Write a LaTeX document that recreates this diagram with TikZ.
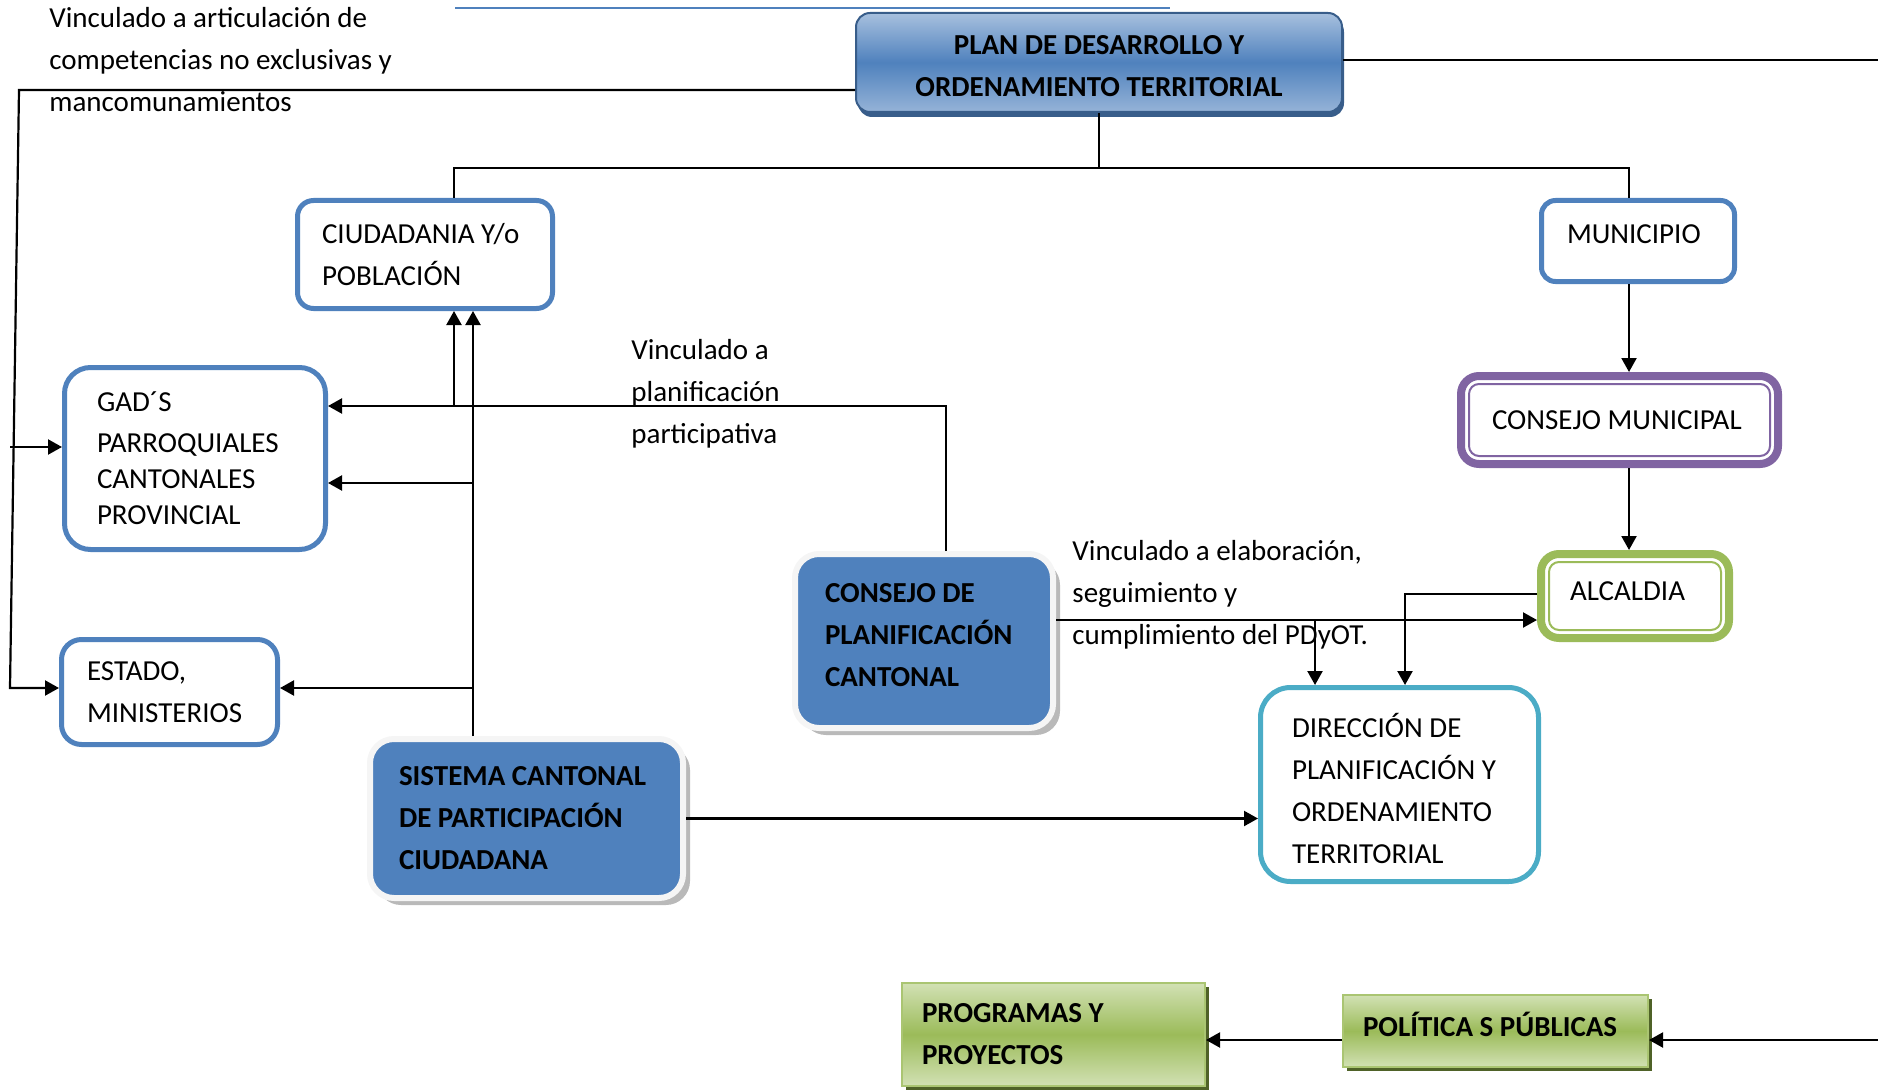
\documentclass[tikz,border=0pt]{standalone}
\usepackage{fontspec}
\setmainfont{Carlito}
\usetikzlibrary{arrows.meta,shadows}

\definecolor{azul}{HTML}{4F81BD}
\definecolor{azulosc}{HTML}{385D8A}
\definecolor{morado}{HTML}{8064A2}
\definecolor{verde}{HTML}{9BBB59}
\definecolor{verdeclaro}{HTML}{D2E1B4}
\definecolor{verdeosc}{HTML}{4F6228}
\definecolor{celeste}{HTML}{4BACC6}

\begin{document}
\begin{tikzpicture}[x=0.5pt,y=-0.5pt,
  every node/.style={inner sep=0pt,font=\fontsize{14.5}{21}\selectfont},
  arr/.style={-{Triangle[length=7pt,width=7.5pt]},line width=1.1pt},
  linea/.style={line width=1.1pt},
  caja/.style={draw=#1,line width=2.5pt,fill=white,align=flush left},
  caja/.default=azul,
  dobre/.style={draw=#1,line width=4pt,fill=white,align=flush left,rounded corners=9pt},
  relleno/.style={draw=gray!8,line width=3pt,fill=azul,align=flush left,rounded corners=12pt,
    font=\fontsize{14.5}{21}\selectfont\bfseries,
    drop shadow={shadow xshift=3.5pt,shadow yshift=-3.5pt,fill=gray!55,opacity=1}},
  verdebox/.style={draw=verde!85!white,line width=1pt,top color=verdeclaro,bottom color=verdeclaro,
    middle color=verde,align=flush left,font=\fontsize{14.5}{21}\selectfont\bfseries,
    drop shadow={shadow xshift=2pt,shadow yshift=-2pt,fill=verdeosc,opacity=1}}]
\useasboundingbox (0,0) rectangle (1878,1091);
\draw[azul,line width=0.6pt] (455,8) -- (1170,8);

\node (plan) at (1099,62.5) [draw=azulosc,line width=1pt,rounded corners=7pt,
  top color=azul!50!white,bottom color=azul!60!white,middle color=azul,align=center,
  minimum width=243pt,minimum height=49.5pt,font=\fontsize{14.5}{21}\selectfont\bfseries,
  text height=34pt,drop shadow={shadow xshift=1pt,shadow yshift=-2.5pt,fill=azulosc,opacity=1}]
  {PLAN DE DESARROLLO Y\\ORDENAMIENTO TERRITORIAL};
\node (ciud) at (425,254.5) [caja,rounded corners=8pt,minimum width=127.5pt,minimum height=54pt,
  inner xsep=12.25pt,text width=103pt] {\mbox{CIUDADANIA Y/o}\\POBLACIÓN};
\node (gad) at (195,458.5) [caja,rounded corners=13pt,minimum width=130.5pt,minimum height=91pt,
  inner xsep=16.25pt,text width=98pt,font=\fontsize{14.5}{18}\selectfont]
  {GAD´S\\[2.5pt]PARROQUIALES\\CANTONALES\\PROVINCIAL};
\node (estado) at (169.5,692) [caja,rounded corners=10pt,minimum width=108pt,minimum height=52.5pt,
  inner xsep=12.75pt,text width=82.5pt] {ESTADO,\\MINISTERIOS};
\node (cpc) at (924,641) [relleno,minimum width=129pt,minimum height=87pt,
  inner xsep=15pt,text width=99pt,text depth=48pt] {\mbox{CONSEJO DE}\\PLANIFICACIÓN\\CANTONAL};
\node (sistema) at (526.5,818.5) [relleno,minimum width=156.5pt,minimum height=79.5pt,
  inner xsep=14.5pt,text width=127.5pt] {\mbox{SISTEMA CANTONAL}\\\mbox{DE PARTICIPACIÓN}\\CIUDADANA};
\node (muni) at (1638,241) [caja,rounded corners=7pt,minimum width=96.5pt,minimum height=40.5pt,
  inner xsep=12.75pt,text width=71pt,text depth=7pt] {MUNICIPIO};
\node (cmun) at (1619.5,420) [dobre=morado,minimum width=158.5pt,minimum height=44pt,
  inner xsep=15.5pt,text width=127.5pt] {\mbox{CONSEJO MUNICIPAL}};
\node (alc) at (1635,596) [dobre=verde,minimum width=94pt,minimum height=42pt,
  inner xsep=14.5pt,text width=65pt,text depth=5pt] {ALCALDIA};
\node (dir) at (1399.5,784.5) [caja=celeste,rounded corners=15pt,minimum width=139pt,minimum height=97pt,
  inner xsep=15.75pt,text width=107.5pt,text height=16pt]
  {\mbox{DIRECCIÓN DE}\\\mbox{PLANIFICACIÓN Y}\\ORDENAMIENTO\\TERRITORIAL};
\node (prog) at (1053.5,1034.5) [verdebox,minimum width=151.5pt,minimum height=51.5pt,
  inner xsep=10pt,text width=131.5pt] {\mbox{PROGRAMAS Y}\\PROYECTOS};
\node (pol) at (1495.5,1031) [verdebox,minimum width=152.5pt,minimum height=36pt,
  inner xsep=10pt,text width=132.5pt,text depth=7pt] {\mbox{POLÍTICA S PÚBLICAS}};

\draw[morado,line width=1pt,rounded corners=5pt] ([shift={(6pt,-6pt)}]cmun.north west) rectangle ([shift={(-6pt,6pt)}]cmun.south east);
\draw[verde,line width=1pt,rounded corners=5pt] ([shift={(6pt,-6pt)}]alc.north west) rectangle ([shift={(-6pt,6pt)}]alc.south east);

\node (lbl1) at (49,60) [anchor=west,align=left]
  {Vinculado a articulación de\\competencias no exclusivas y\\mancomunamientos};
\node (lbl2) at (631,394) [anchor=west,align=left] {Vinculado a\\planificación\\participativa};
\node (lbl3) at (1072,595) [anchor=west,align=left]
  {Vinculado a elaboración,\\seguimiento y\\cumplimiento del PDyOT.};

\coordinate (ta) at (454,168);
\coordinate (tb) at (1629,168);
\draw[linea] (plan.south) -- (plan.south |- ta);
\draw[linea] (ciud.north -| ta) -- (ta) -- (tb) -- (muni.north -| tb);
\coordinate (re1) at (1878,60);
\draw[linea] (plan.east |- re1) -- (re1);

\coordinate (lt) at (19,90);
\coordinate (lb) at (10,688);
\coordinate (lg) at (10,447);
\draw[arr] (plan.west |- lt) -- (lt) -- (lb) -- (estado.west |- lb);
\draw[arr] (lg) -- (gad.west |- lg);

\coordinate (pa) at (946,406);
\coordinate (pb) at (454,406);
\draw[arr] (cpc.north -| pa) -- (pa) -- (gad.east |- pa);
\draw[arr] (pb) -- (ciud.south -| pb);

\coordinate (sa) at (473,688);
\coordinate (sb) at (473,483);
\draw[arr] (sistema.north -| sa) -- (ciud.south -| sa);
\draw[arr] (sb) -- (gad.east |- sb);
\draw[arr] (sa) -- (estado.east |- sa);
\draw[arr] (sistema.east) -- (sistema.east -| dir.west);

\coordinate (ca) at (1315,620);
\coordinate (ab) at (1405,594);
\draw[arr] (cpc.east |- ca) -- (alc.west |- ca);
\draw[arr] (ca) -- (dir.north -| ca);
\draw[arr] (alc.west |- ab) -- (ab) -- (dir.north -| ab);

\coordinate (ax) at (1629,0);
\draw[arr] (muni.south -| ax) -- (cmun.north -| ax);
\draw[arr] (cmun.south -| ax) -- (alc.north -| ax);

\coordinate (pq) at (1878,1040);
\draw[arr] (pq) -- (pol.east |- pq);
\draw[arr] (pol.west |- pq) -- (prog.east |- pq);
\end{tikzpicture}
\end{document}
